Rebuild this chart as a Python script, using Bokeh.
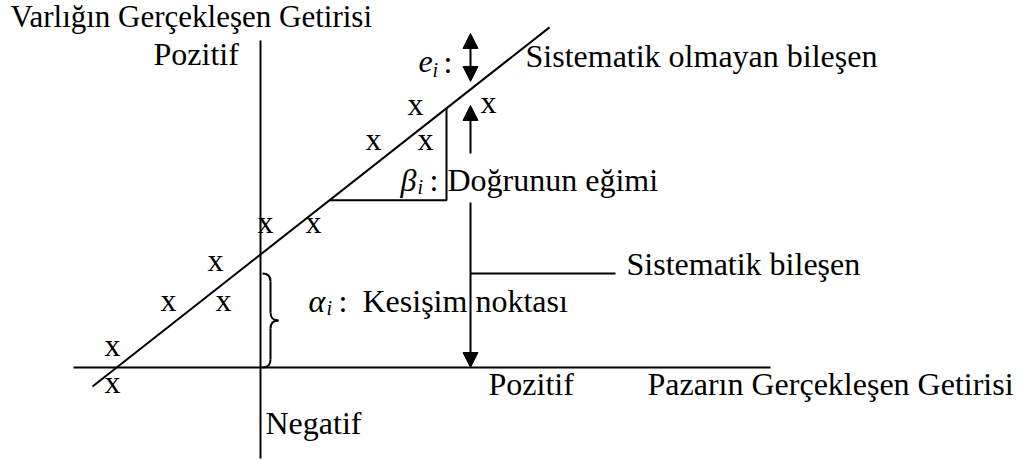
from bokeh.plotting import figure
from bokeh.models import Range1d, Arrow, NormalHead, ColumnDataSource
from bokeh.core.properties import value
from bokeh.embed import file_html
from bokeh.resources import INLINE

# Observed (market return, asset return) pairs; origin where the axes cross
market_ret = [-148, -148, -92, -37, -45, 5, 53, 113, 165, 155, 228]
asset_ret = [19, -18, 64, 64, 104, 142, 142, 225, 225, 260, 262]

# Characteristic line: asset = alpha + beta * market
alpha = 113
beta = 0.786
line_ends = [-168, 289]

# Axis extents
x_axis_span = [-187, 510]
y_axis_span = [-91, 327]

FONT = value("Liberation Serif")
BLACK = "#000000"

p = figure(width=1018, height=461, output_backend="svg", toolbar_location=None,
           x_range=Range1d(-260, 758), y_range=Range1d(-94, 367),
           min_border=0)
p.axis.visible = False
p.grid.visible = False
p.outline_line_color = None
p.background_fill_color = "white"
p.border_fill_color = "white"

LW = 2

# axes
p.line(x_axis_span, [0, 0], line_color=BLACK, line_width=LW)
p.line([0, 0], y_axis_span, line_color=BLACK, line_width=LW)

# characteristic line
line_y = [alpha + beta * v for v in line_ends]
p.line(line_ends, line_y, line_color=BLACK, line_width=LW)

# slope triangle
tri_x0, tri_x1 = 69, 186
tri_base = alpha + beta * tri_x0
p.line([tri_x0, tri_x1, tri_x1], [tri_base, tri_base, alpha + beta * tri_x1],
       line_color=BLACK, line_width=LW)

# arrows at the decomposition column
col_x = 210
on_line = alpha + beta * col_x


def head():
    return NormalHead(size=15, fill_color=BLACK, line_color=BLACK, line_width=1)


# residual (double-headed) above the line
p.add_layout(Arrow(start=head(), end=head(), x_start=col_x, y_start=on_line + 8,
                   x_end=col_x, y_end=on_line + 56, line_width=LW, line_color=BLACK))
# upward arrow below the line
p.add_layout(Arrow(end=head(), x_start=col_x, y_start=214,
                   x_end=col_x, y_end=on_line - 16, line_width=LW, line_color=BLACK))
# systematic component arrow down to the market axis
p.add_layout(Arrow(end=head(), x_start=col_x, y_start=165,
                   x_end=col_x, y_end=0, line_width=LW, line_color=BLACK))
# leader to the label
leader_y = 94
p.line([col_x, 355], [leader_y, leader_y], line_color=BLACK, line_width=LW)

# curly brace for the intercept
bx0, bxs, bxt, r = 2, 10, 18, 8
top, mid = leader_y, leader_y / 2
p.quadratic(x0=[bx0, bxs, bxt, bxs], y0=[top, mid + r, mid, r],
            x1=[bxs, bxt, bxs, bx0], y1=[top - r, mid, mid - r, 0],
            cx=[bxs, bxs, bxs, bxs], cy=[top, mid, mid, 0],
            line_color=BLACK, line_width=LW)
p.line([bxs, bxs], [top - r, mid + r], line_color=BLACK, line_width=LW)
p.line([bxs, bxs], [mid - r, r], line_color=BLACK, line_width=LW)

# observed points drawn as "x" letters
pts = ColumnDataSource(dict(x=market_ret, y=asset_ret, t=["x"] * len(market_ret)))
p.text(x="x", y="y", text="t", source=pts, text_font=FONT, text_font_size="32px",
       text_align="center", text_baseline="alphabetic", y_offset=-4, text_color=BLACK)

# vertical axis title
p.text(x=[-250], y=[351], text=["Varlığın Gerçekleşen Getirisi"], text_font=FONT,
       text_font_size="31px", text_align="left", text_baseline="alphabetic",
       text_color=BLACK)

# regular labels
labels = ColumnDataSource(dict(
    x=[-107, 265, 187, 366, 102, 5, 228, 387, 183, 169, 78],
    y=[314, 312, 188, 104, 67, -55, -16, -16, 306, 188, 67],
    t=["Pozitif", "Sistematik olmayan bileşen",
       "Doğrunun eğimi", "Sistematik bileşen", "Kesişim noktası", "Negatif",
       "Pozitif", "Pazarın Gerçekleşen Getirisi", ":", ":", ":"],
))
p.text(x="x", y="y", text="t", source=labels, text_font=FONT, text_font_size="32px",
       text_align="left", text_baseline="alphabetic", text_color=BLACK)

# italic symbols
syms = ColumnDataSource(dict(x=[158, 140, 48], y=[306, 188, 67], t=["e", "β", "α"]))
p.text(x="x", y="y", text="t", source=syms, text_font=FONT, text_font_size="32px",
       text_font_style="italic", text_align="left", text_baseline="alphabetic",
       text_color=BLACK)
subs = ColumnDataSource(dict(x=[172, 157, 66], y=[298, 181, 60], t=["i", "i", "i"]))
p.text(x="x", y="y", text="t", source=subs, text_font=FONT, text_font_size="20px",
       text_font_style="italic", text_align="left", text_baseline="alphabetic",
       text_color=BLACK)

open("out.html", "w").write(file_html(p, INLINE))
